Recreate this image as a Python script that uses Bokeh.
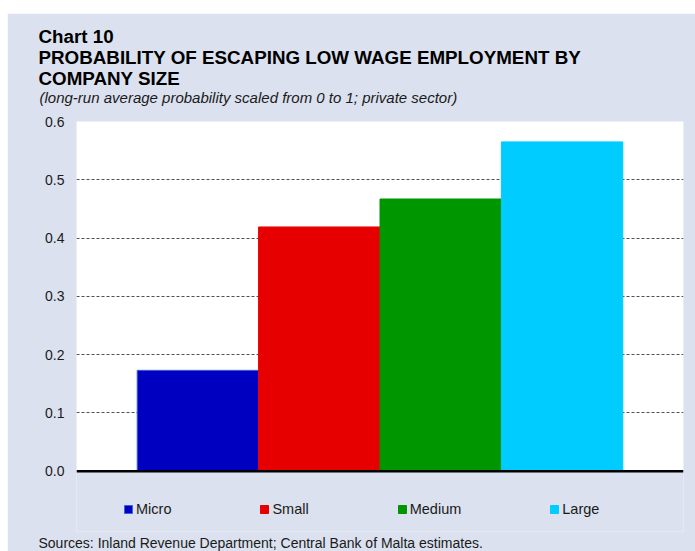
from bokeh.plotting import figure
from bokeh.models import (ColumnDataSource, Range1d, FixedTicker, NumeralTickFormatter,
                          Span, Title, BoxAnnotation)
from bokeh.embed import file_html
from bokeh.resources import INLINE

# ---- data ----
categories = ["Micro", "Small", "Medium", "Large"]
probabilities = [0.173, 0.419, 0.467, 0.565]
bar_colors = ["#0000c0", "#e60000", "#009600", "#00ccff"]
edge_colors = ["#3d5ee8", "#e60000", "#009600", "#00ccff"]
y_ticks = [0.0, 0.1, 0.2, 0.3, 0.4, 0.5, 0.6]

title_lines = ["Chart 10",
               "PROBABILITY OF ESCAPING LOW WAGE EMPLOYMENT BY",
               "COMPANY SIZE"]
subtitle = "(long-run average probability scaled from 0 to 1; private sector)"
source_note = "Sources: Inland Revenue Department; Central Bank of Malta estimates."

BG = "#dbe1ee"
FONT = "Liberation Sans"
TXT = "#1a1a1a"

# layout: the frame extends below the value axis to hold the legend
PLOT_PX = 350.0      # pixel height of 0 .. 0.6
BELOW_PX = 60.4      # pixel space below 0 inside the frame
y_top = y_ticks[-1]
y_bottom = -y_top * BELOW_PX / PLOT_PX

src = ColumnDataSource(dict(x=list(range(1, len(categories) + 1)),
                            top=probabilities, color=bar_colors, edge=edge_colors,
                            cat=categories))

p = figure(width=688, height=538, output_backend="svg", toolbar_location=None,
           x_range=Range1d(0, len(categories) + 1), y_range=Range1d(y_bottom, y_top),
           x_axis_location=None,
           min_border_left=69, min_border_top=108, min_border_right=12,
           min_border_bottom=0, margin=(13, 0, 0, 7))
p.title = None
p.border_fill_color = BG
p.background_fill_color = BG
p.outline_line_color = None

# white plot area from 0 to 0.6
p.add_layout(BoxAnnotation(bottom=y_ticks[0], top=y_ticks[-1], fill_color="white",
                           fill_alpha=1, line_color=None, level="image"))

p.vbar(x="x", top="top", width=1.0, bottom=0, fill_color="color",
       line_color="edge", line_width=1, source=src, legend_field="cat")

# y axis
p.xgrid.visible = False
yax = p.yaxis[0]
yax.ticker = FixedTicker(ticks=y_ticks)
yax.formatter = NumeralTickFormatter(format="0.0")
yax.axis_line_color = None
yax.major_tick_line_color = None
yax.minor_tick_line_color = None
yax.major_tick_out = 0
yax.major_tick_in = 0
yax.major_label_standoff = 12
yax.major_label_text_font = FONT
yax.major_label_text_font_size = "14px"
yax.major_label_text_color = TXT

p.ygrid.ticker = FixedTicker(ticks=y_ticks[1:])
p.ygrid.grid_line_color = "#505050"
p.ygrid.grid_line_dash = "3 2"
p.ygrid.grid_line_width = 1

p.add_layout(Span(location=0, dimension="width", line_color="black", line_width=2.5))

# titles above (first added = closest to the plot area)
p.add_layout(Title(text=" ", text_font_size="1px", standoff=8.3), "above")
p.add_layout(Title(text=subtitle, align="left", offset=-37, standoff=3.8,
                   vertical_align="top",
                   text_font=FONT, text_font_size="15px", text_font_style="italic",
                   text_color=TXT), "above")
for t in reversed(title_lines):
    p.add_layout(Title(text=t, align="left", offset=-38, standoff=-2,
                       text_font=FONT, text_font_size="18.8px", text_font_style="bold",
                       text_color="black"), "above")

# legend inside the (extended) frame, below the value axis
legend = p.legend[0]
legend.location = (47, 14.4)
legend.orientation = "horizontal"
legend.glyph_width = 10
legend.glyph_height = 10
legend.label_standoff = 3
legend.spacing = 88
legend.padding = 0
legend.margin = 0
legend.label_height = 14
legend.label_text_font = FONT
legend.label_text_font_size = "14.5px"
legend.label_text_color = TXT
legend.border_line_color = None
legend.background_fill_alpha = 0

# source note
p.add_layout(Title(text=source_note, align="left", offset=-38, standoff=2,
                   text_font=FONT, text_font_size="14px", text_font_style="normal",
                   text_color=TXT), "below")

open("out.html", "w").write(file_html(p, INLINE))
